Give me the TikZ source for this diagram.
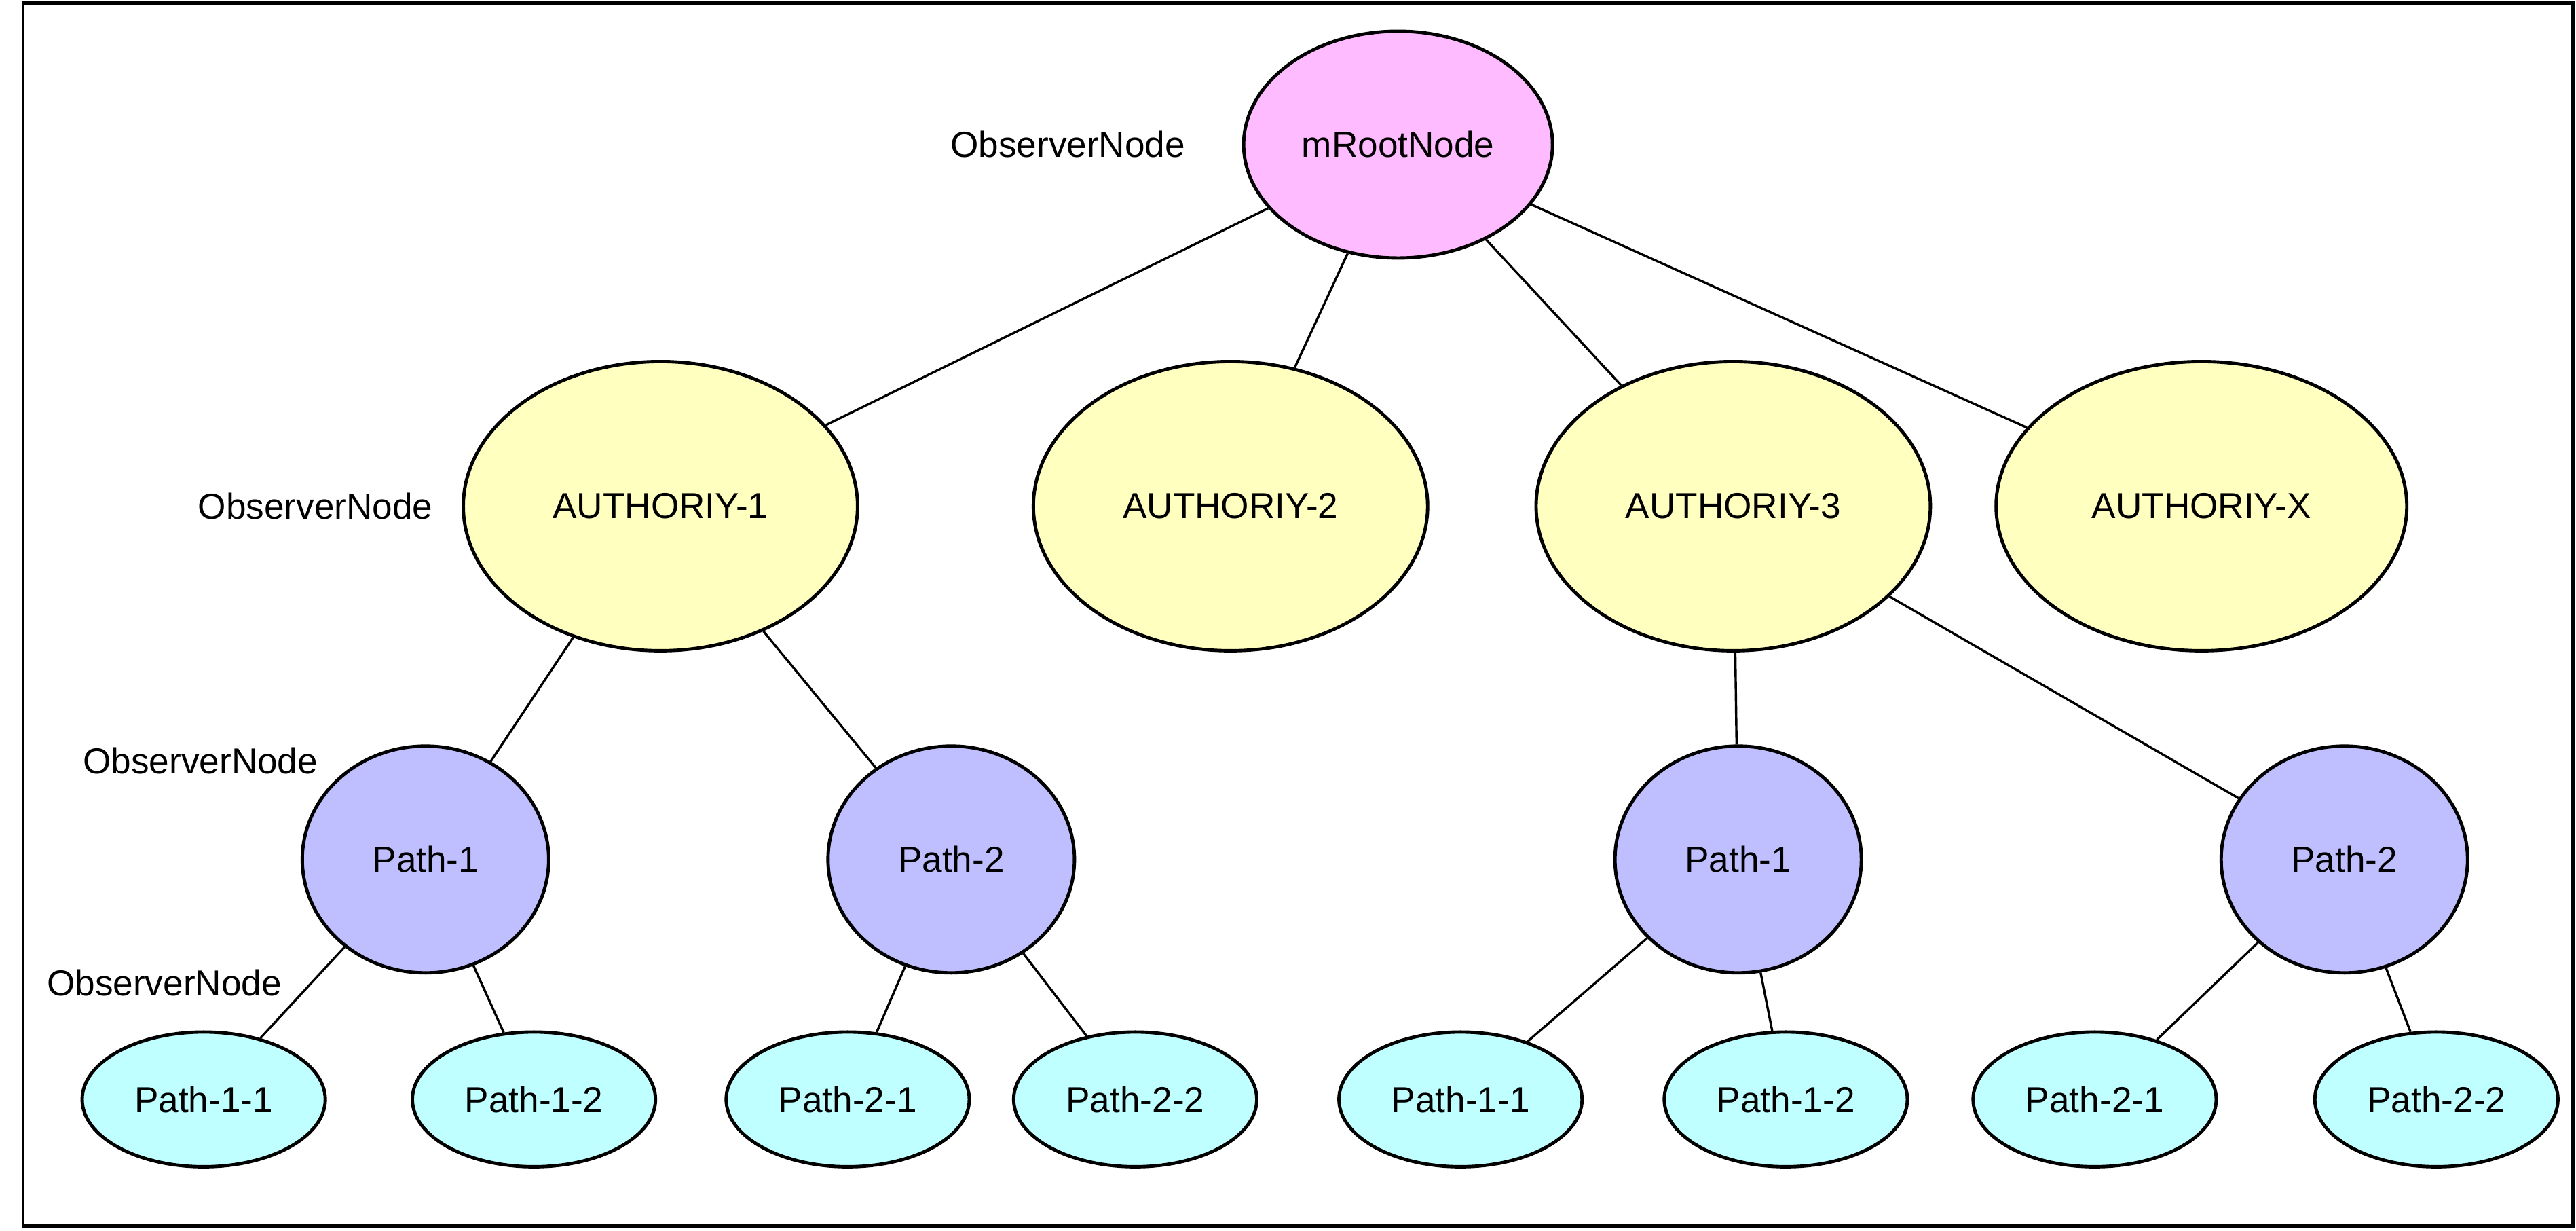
\documentclass[tikz,border=0pt]{standalone}
\usepackage{fontspec}
\setmainfont{Liberation Sans}
\usetikzlibrary{shapes.geometric}
\definecolor{rootpink}{HTML}{FFBBFF}
\definecolor{authyellow}{HTML}{FFFFC0}
\definecolor{pathblue}{HTML}{BFBFFF}
\definecolor{leafcyan}{HTML}{BFFFFF}
\tikzset{
    treenode/.style={ellipse, draw=black, line width=1.15pt, inner sep=0pt, font=\fontsize{12.5}{15}\selectfont},
    rootnode/.style={treenode, fill=rootpink, minimum width=3.76cm, minimum height=2.76cm},
    authnode/.style={treenode, fill=authyellow, minimum width=4.8cm, minimum height=3.52cm},
    pathnode/.style={treenode, fill=pathblue, minimum width=3.0cm, minimum height=2.76cm},
    leafnode/.style={treenode, fill=leafcyan, minimum width=2.96cm, minimum height=1.64cm},
    obslabel/.style={font=\fontsize{12.5}{15}\selectfont},
    edge/.style={line width=0.8pt}
}
\begin{document}
\begin{tikzpicture}
    \useasboundingbox (0,0) rectangle (31.36,14.98);
    \draw[line width=1.1pt] (0.28,0.06) rectangle (31.32,14.94);

    % root
    \node[rootnode] (root) at (17.02,13.22) {mRootNode};
    \node[obslabel] (obs0) at (13.00,13.22) {ObserverNode};

    % authorities
    \node[authnode] (a1) at (8.04,8.82) {AUTHORIY-1};
    \node[authnode] (a2) at (14.98,8.82) {AUTHORIY-2};
    \node[authnode] (a3) at (21.10,8.82) {AUTHORIY-3};
    \node[authnode, minimum width=5.0cm] (ax) at (26.80,8.82) {AUTHORIY-X};
    \node[obslabel] (obs1) at (3.84,8.82) {ObserverNode};

    % paths
    \node[pathnode] (a1p1) at (5.18,4.52) {Path-1};
    \node[pathnode] (a1p2) at (11.58,4.52) {Path-2};
    \node[pathnode] (a3p1) at (21.16,4.52) {Path-1};
    \node[pathnode] (a3p2) at (28.54,4.52) {Path-2};
    \node[obslabel] (obs2) at (2.44,5.72) {ObserverNode};

    % leaves
    \node[leafnode] (a1p11) at (2.48,1.60) {Path-1-1};
    \node[leafnode] (a1p12) at (6.50,1.60) {Path-1-2};
    \node[leafnode] (a1p21) at (10.32,1.60) {Path-2-1};
    \node[leafnode] (a1p22) at (13.82,1.60) {Path-2-2};
    \node[leafnode] (a3p11) at (17.78,1.60) {Path-1-1};
    \node[leafnode] (a3p12) at (21.74,1.60) {Path-1-2};
    \node[leafnode] (a3p21) at (25.50,1.60) {Path-2-1};
    \node[leafnode] (a3p22) at (29.66,1.60) {Path-2-2};
    \node[obslabel] (obs3) at (2.00,3.02) {ObserverNode};

    % edges
    \draw[edge] (root) -- (a1);
    \draw[edge] (root) -- (a2);
    \draw[edge] (root) -- (a3);
    \draw[edge] (root) -- (ax);
    \draw[edge] (a1) -- (a1p1);
    \draw[edge] (a1) -- (a1p2);
    \draw[edge] (a3) -- (a3p1);
    \draw[edge] (a3) -- (a3p2);
    \draw[edge] (a1p1) -- (a1p11);
    \draw[edge] (a1p1) -- (a1p12);
    \draw[edge] (a1p2) -- (a1p21);
    \draw[edge] (a1p2) -- (a1p22);
    \draw[edge] (a3p1) -- (a3p11);
    \draw[edge] (a3p1) -- (a3p12);
    \draw[edge] (a3p2) -- (a3p21);
    \draw[edge] (a3p2) -- (a3p22);
\end{tikzpicture}
\end{document}
